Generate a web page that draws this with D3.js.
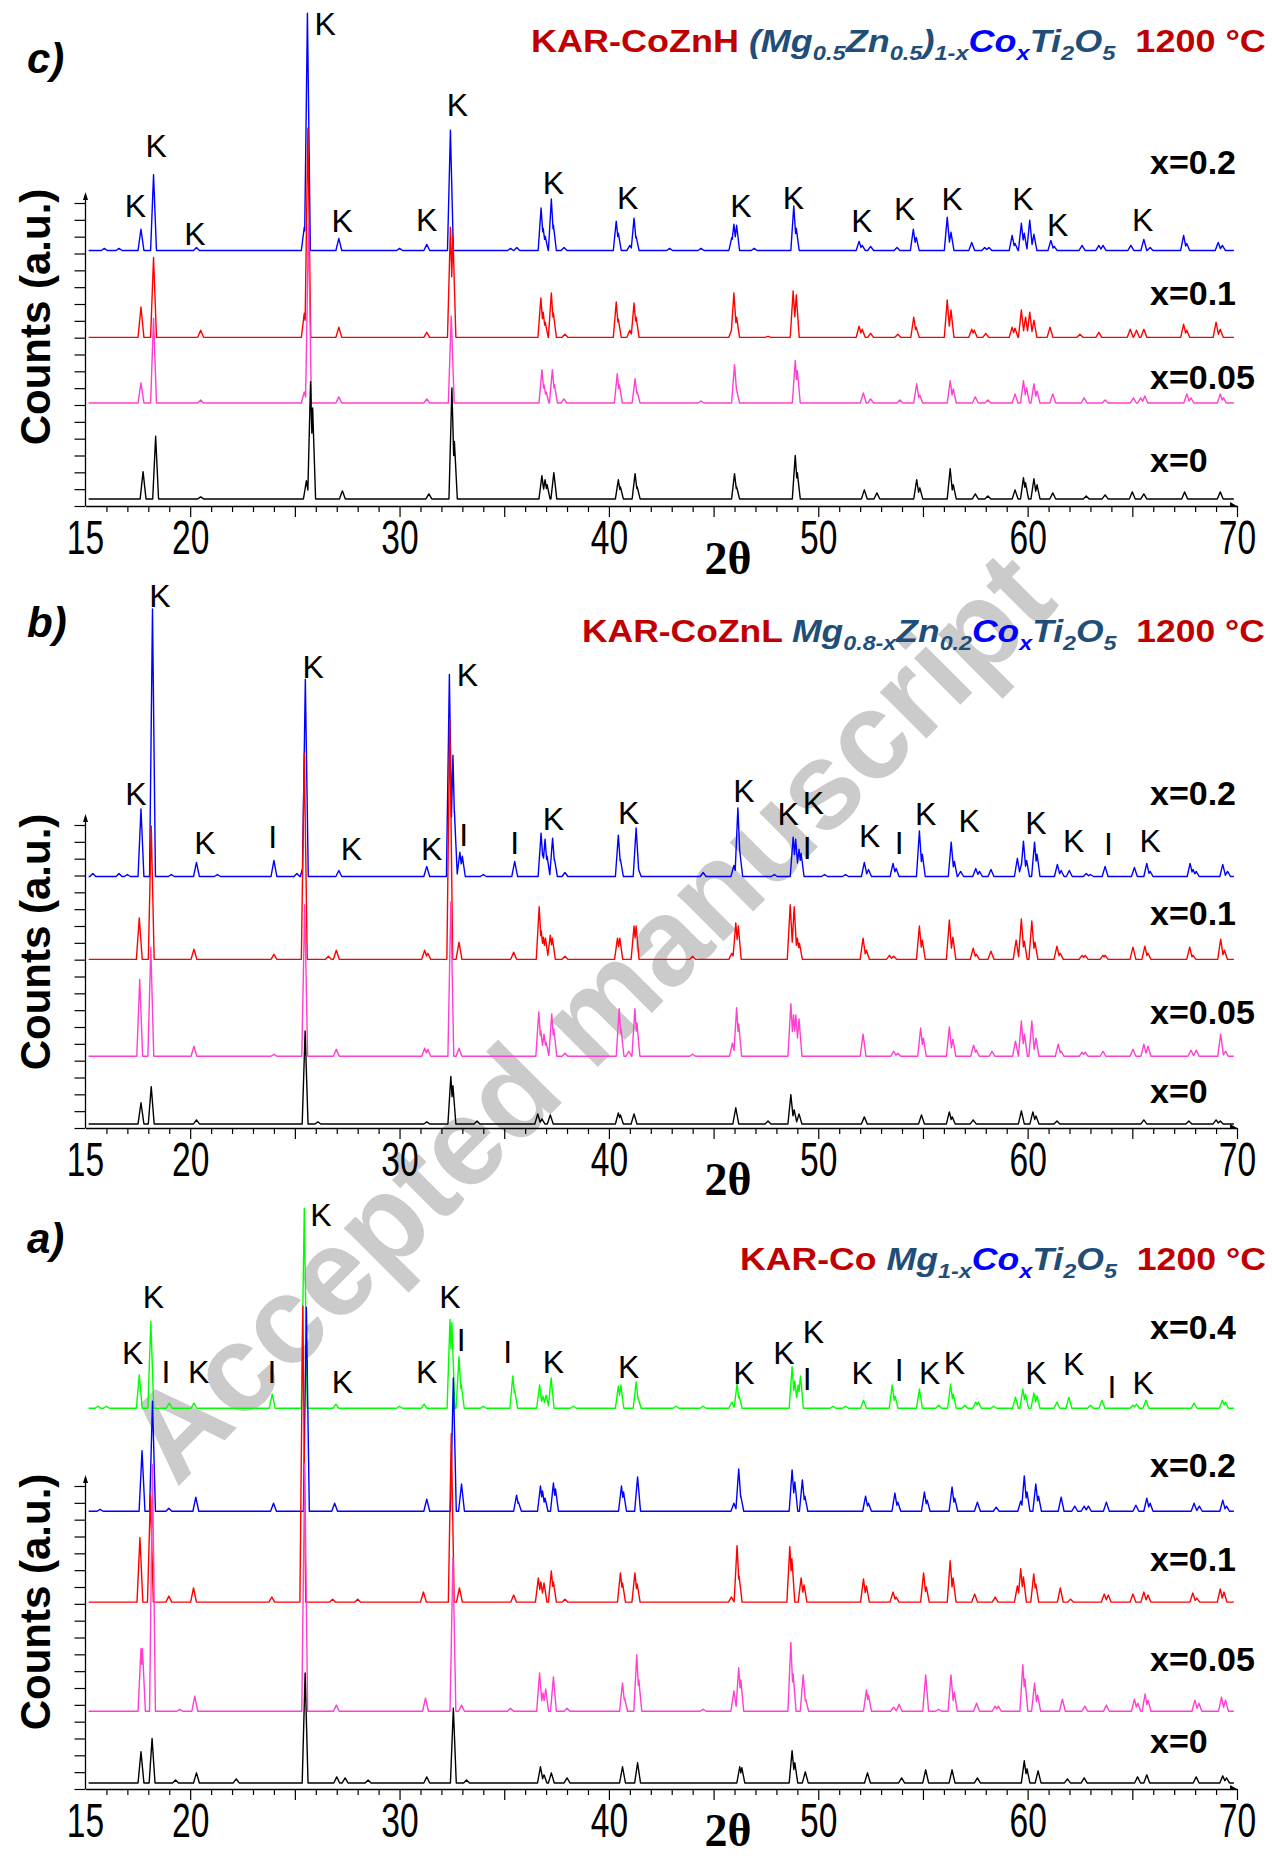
<!DOCTYPE html>
<html><head><meta charset="utf-8">
<script src="https://cdn.jsdelivr.net/npm/d3@7"></script>
<style>body{margin:0;background:#fff}</style>
</head><body>
<svg id="chart" width="1272" height="1856" xmlns="http://www.w3.org/2000/svg"></svg>
<script>
// ---------------- DATA (2θ, relative counts a.u.) ----------------
const xTickLabels = [15, 20, 30, 40, 50, 60, 70];

// Panel c) KAR-CoZnH
const c_labels = ['x=0.2', 'x=0.1', 'x=0.05', 'x=0'];
const c_offsets = [253, 167, 102, 7];
const c_labelY = [329, 199, 116, 34];
const c_x02 = [[15.9,2],[16.6,2],[17.65,21],[18.25,75],[20.3,3],[25.45,23],[25.6,235],[27.1,12],[30.0,2],[31.3,6],[32.43,119],[35.3,2],[35.6,3],[36.76,42],[36.86,22],[36.96,14],[37.25,51],[37.35,25],[37.86,3],[40.35,29],[40.45,17],[41.0,5],[41.2,32],[41.3,14],[42.9,2],[44.4,2],[45.87,13],[45.97,26],[46.1,25],[46.94,2],[48.83,44],[48.95,22],[51.95,9],[52.1,5],[52.5,4],[53.76,3],[54.54,21],[54.68,13],[56.16,33],[56.34,18],[57.33,8],[57.95,3],[58.15,3],[59.26,15],[59.4,7],[59.7,27],[59.84,17],[60.1,30],[60.3,16],[61.11,10],[61.27,4],[62.6,5],[63.4,5],[63.6,5],[64.93,5],[65.55,11],[65.85,3],[67.45,15],[67.6,7],[69.1,8],[69.3,5]];
const c_x01 = [[17.65,30],[18.25,79],[20.5,7],[25.45,24],[25.62,207],[27.1,10],[31.3,5],[32.43,109],[32.55,101],[36.75,39],[36.86,25],[36.96,15],[37.25,44],[37.35,24],[37.9,3],[40.35,35],[40.45,18],[41.0,7],[41.2,34],[41.3,20],[45.87,8],[45.97,44],[46.1,20],[47.6,1],[48.8,46],[48.95,42],[51.95,11],[52.1,8],[52.5,4],[53.8,3],[54.56,20],[54.68,10],[56.16,37],[56.34,27],[57.33,8],[57.45,7],[58.0,4],[59.26,10],[59.4,9],[59.7,27],[59.9,20],[60.1,25],[60.3,17],[61.07,10],[62.5,3],[63.4,5],[64.9,8],[65.2,7],[65.55,8],[67.45,13],[67.6,7],[69.0,15],[69.2,8]];
const c_x005 = [[17.65,20],[18.25,84],[20.5,3],[25.45,11],[25.65,177],[27.1,6],[31.3,4],[32.47,86],[36.8,33],[36.9,18],[37.0,11],[37.3,33],[37.4,18],[37.85,4],[40.4,29],[40.5,18],[41.25,24],[41.35,11],[44.4,2],[46.0,38],[46.1,13],[48.9,42],[49.0,32],[52.15,10],[52.5,4],[53.9,3],[54.7,19],[54.85,8],[56.3,22],[56.45,14],[57.5,6],[58.1,3],[59.4,9],[59.8,22],[59.95,15],[60.3,19],[60.45,12],[61.2,9],[62.7,5],[63.7,3],[65.05,5],[65.4,5],[65.6,7],[67.6,9],[67.8,5],[69.2,9],[69.35,5]];
const c_x0 = [[17.75,27],[18.35,62],[20.5,2],[25.55,18],[25.75,116],[25.85,90],[27.27,8],[31.4,5],[32.5,110],[32.62,57],[36.8,23],[36.95,19],[37.05,14],[37.37,26],[40.45,19],[40.55,12],[41.25,25],[41.35,12],[46.0,25],[46.1,12],[48.9,43],[49.0,26],[52.2,9],[52.8,6],[54.7,19],[54.85,11],[56.3,30],[56.45,14],[57.5,5],[58.1,3],[59.4,9],[59.8,21],[59.9,16],[60.3,20],[60.45,14],[61.2,6],[62.8,3],[63.7,4],[65.0,7],[65.55,5],[67.5,7],[69.2,7]];
const c_marks = [['K',17.39,286],['K',18.37,346],['K',20.23,258],['K',26.45,466],['K',27.26,271],['K',31.3,272],['K',32.77,386],['K',37.35,309],['K',40.9,294],['K',46.3,286],['K',48.81,294],['K',52.08,271],['K',54.13,283],['K',56.39,293],['K',59.77,293],['K',61.44,267],['K',65.5,272]];

// Panel b) KAR-CoZnL
const b_labels = ['x=0.2', 'x=0.1', 'x=0.05', 'x=0'];
const b_offsets = [249, 167, 71, 4];
const b_labelY = [320, 201, 103, 25];
const b_x02 = [[15.35,3],[16.6,3],[17.0,2],[17.65,67],[18.2,265],[19.1,2],[20.3,14],[21.3,2],[24.0,16],[25.1,3],[25.4,10],[25.5,195],[27.1,6],[31.3,10],[32.38,200],[32.55,120],[32.62,65],[32.88,24],[33.0,20],[34.0,2],[35.5,15],[36.76,43],[36.85,23],[36.95,37],[37.05,20],[37.31,38],[37.4,17],[37.9,4],[40.45,41],[40.55,17],[41.3,48],[41.4,8],[44.5,4],[45.97,11],[46.16,68],[46.25,25],[47.9,2],[48.8,39],[48.92,37],[49.08,27],[49.18,23],[50.3,2],[51.3,2],[52.2,14],[52.4,7],[53.57,13],[53.72,8],[54.83,45],[54.97,22],[56.35,34],[56.5,15],[56.8,5],[57.52,8],[57.7,5],[58.25,7],[59.51,18],[59.7,12],[59.8,35],[59.95,16],[60.33,34],[60.45,22],[61.42,12],[61.6,6],[61.99,6],[62.8,3],[63.0,2],[63.7,10],[65.1,9],[65.69,13],[65.85,5],[67.76,13],[67.9,7],[68.05,5],[69.32,12],[69.55,5]];
const b_x01 = [[17.57,41],[18.14,132],[20.18,10],[24.0,5],[25.45,204],[26.6,3],[26.98,9],[31.2,9],[31.35,6],[32.4,238],[32.84,17],[35.45,7],[36.67,52],[36.77,28],[36.87,22],[36.97,21],[37.2,24],[37.3,21],[37.9,3],[40.41,21],[40.52,21],[41.2,33],[41.3,33],[44.0,3],[45.87,6],[46.06,36],[46.18,33],[48.66,54],[48.85,52],[49.0,21],[49.1,16],[52.14,21],[52.3,9],[53.4,4],[53.6,3],[54.83,33],[54.97,19],[56.26,39],[56.43,22],[57.4,11],[57.55,5],[58.25,8],[59.45,19],[59.7,40],[59.84,18],[60.2,38],[60.35,17],[61.4,13],[61.56,6],[62.6,4],[62.75,4],[63.6,4],[63.7,4],[65.03,12],[65.6,13],[65.75,6],[67.74,12],[67.9,4],[69.22,20],[69.4,9]];
const b_x005 = [[17.59,76],[18.12,108],[20.18,10],[24.0,2],[25.47,150],[26.98,7],[31.2,8],[31.35,7],[32.45,153],[32.84,8],[36.65,44],[36.75,25],[36.9,22],[37.0,14],[37.27,42],[37.37,27],[37.9,3],[40.49,47],[40.58,27],[40.95,5],[41.24,47],[41.34,33],[44.0,2],[45.9,13],[46.1,48],[46.2,32],[48.69,52],[48.82,41],[48.93,41],[49.08,37],[52.14,22],[53.6,5],[53.8,3],[54.89,28],[55.02,18],[56.26,29],[56.43,17],[57.42,11],[57.55,6],[58.3,5],[59.42,15],[59.7,35],[59.85,22],[60.2,35],[60.4,18],[61.46,12],[61.6,5],[62.6,4],[62.75,4],[63.6,5],[65.03,7],[65.55,12],[65.75,10],[67.8,6],[68.05,6],[69.22,22],[69.45,5]];
const b_x0 = [[17.65,21],[18.14,37],[20.3,4],[25.49,92],[26.1,2],[31.3,2],[32.45,47],[32.55,38],[33.7,3],[36.6,10],[36.8,5],[37.2,9],[40.45,11],[40.55,9],[41.2,10],[46.06,16],[47.6,3],[48.69,29],[48.85,14],[49.08,10],[52.2,7],[54.93,9],[56.26,12],[56.4,7],[57.4,4],[59.7,13],[60.25,12],[60.4,8],[61.4,3],[65.55,4],[67.7,3],[69.0,4],[69.2,3]];
const b_marks = [['K',17.41,320],['K',18.55,516],['K',20.7,271],['I',23.94,277],['K',25.87,446],['K',27.7,265],['K',31.53,265],['K',33.24,438],['I',33.06,279],['I',35.5,271],['K',37.35,295],['K',40.94,301],['K',46.45,323],['K',48.56,300],['K',49.77,311],['I',49.47,266],['K',52.46,278],['I',53.86,271],['K',55.13,300],['K',57.21,293],['K',60.39,291],['K',62.2,273],['I',63.86,270],['K',65.85,273]];

// Panel a) KAR-Co
const a_labels = ['x=0.4', 'x=0.2', 'x=0.1', 'x=0.05', 'x=0'];
const a_offsets = [377, 275, 185, 77, 6];
const a_labelY = [446, 309, 216, 117, 36];
const a_x04 = [[15.6,2],[16.0,2],[17.57,33],[18.12,86],[19.0,5],[20.18,5],[23.92,14],[25.45,198],[26.96,4],[30.0,2],[31.17,4],[32.41,88],[32.5,85],[32.84,51],[32.95,23],[34.0,2],[35.41,32],[35.5,18],[36.69,23],[36.85,12],[37.0,13],[37.24,30],[38.3,2],[40.45,22],[40.57,23],[41.3,26],[41.4,10],[43.2,2],[44.5,2],[45.87,6],[46.12,24],[46.22,12],[48.75,41],[48.88,27],[49.04,23],[49.15,32],[50.7,2],[51.3,2],[52.16,8],[53.53,23],[53.67,12],[54.83,19],[55.75,3],[56.32,24],[56.45,14],[57.0,3],[57.52,6],[57.65,6],[58.38,2],[59.42,11],[59.77,19],[59.9,14],[60.3,15],[60.45,12],[61.4,6],[61.97,11],[63.0,3],[63.55,8],[65.03,3],[65.2,4],[65.65,8],[67.95,5],[69.3,8],[69.45,6]];
const a_x02 = [[15.7,2],[17.7,60],[18.2,109],[18.98,3],[20.27,14],[23.98,8],[25.55,202],[26.9,8],[31.3,12],[32.57,132],[32.96,27],[35.59,16],[35.68,9],[36.73,25],[36.83,20],[36.95,13],[37.35,28],[37.45,22],[40.6,25],[40.7,19],[41.37,34],[45.97,8],[46.2,42],[46.3,15],[48.75,41],[48.88,29],[49.24,31],[49.36,15],[52.26,15],[52.4,8],[53.66,18],[53.8,9],[55.07,19],[55.2,11],[56.39,24],[56.52,13],[57.6,9],[58.5,4],[59.67,10],[59.84,35],[59.97,19],[60.39,27],[60.52,15],[61.6,14],[62.25,5],[62.7,5],[62.9,5],[63.76,9],[65.17,6],[65.69,13],[65.85,8],[67.95,8],[68.2,5],[69.32,11],[69.5,5]];
const a_x01 = [[17.6,64],[18.1,106],[18.98,6],[20.16,14],[23.9,5],[25.38,293],[26.8,3],[28.0,3],[31.14,10],[32.47,167],[32.86,14],[35.45,7],[36.63,24],[36.75,20],[36.9,19],[37.25,31],[37.35,20],[37.9,3],[40.55,29],[40.65,19],[41.24,29],[41.35,18],[45.85,5],[46.12,56],[46.22,26],[48.64,55],[48.74,43],[49.18,24],[49.32,17],[52.16,23],[52.3,16],[53.57,10],[53.72,5],[55.03,29],[55.16,15],[56.3,41],[56.44,24],[57.47,8],[58.45,5],[59.51,16],[59.67,33],[59.8,25],[60.29,28],[60.39,18],[61.56,14],[62.05,3],[63.66,8],[63.85,7],[65.03,8],[65.55,10],[65.75,7],[67.89,9],[68.08,4],[69.2,13],[69.38,10]];
const a_x005 = [[17.65,62],[17.72,62],[18.2,244],[19.5,2],[20.22,15],[25.47,245],[26.98,6],[31.24,13],[32.55,152],[32.96,6],[35.3,3],[36.69,38],[36.85,18],[36.98,22],[37.35,34],[38.0,3],[40.65,28],[40.75,13],[41.33,56],[41.43,31],[44.5,2],[45.97,20],[46.2,43],[46.3,31],[48.69,68],[48.8,37],[49.28,36],[49.4,12],[52.3,21],[52.4,16],[53.6,4],[53.86,7],[55.13,36],[55.75,2],[56.34,36],[56.5,19],[57.56,8],[58.45,5],[58.6,5],[59.77,46],[59.87,32],[60.33,28],[60.48,16],[61.66,12],[62.73,5],[63.76,6],[65.1,12],[65.26,8],[65.61,17],[65.75,11],[67.99,11],[68.18,8],[69.26,14],[69.45,11]];
const a_x0 = [[17.65,31],[18.18,44],[19.3,3],[20.3,10],[22.2,4],[25.49,109],[27.0,6],[27.4,5],[28.5,3],[31.3,6],[32.57,74],[33.2,3],[36.73,16],[36.9,8],[37.25,10],[38.0,5],[40.65,16],[41.37,20],[46.25,16],[46.35,15],[48.75,32],[48.88,20],[49.38,11],[52.35,10],[53.98,5],[55.13,13],[56.39,13],[57.6,5],[59.84,22],[59.97,14],[60.5,12],[61.9,4],[62.7,5],[65.25,6],[65.69,8],[68.05,6],[69.32,7],[69.5,5]];
const a_marks = [['K',17.25,421],['K',18.25,476],['I',18.84,402],['K',20.4,402],['I',23.9,402],['K',26.24,557],['K',27.27,392],['K',31.3,402],['K',32.41,476],['I',32.94,434],['I',35.16,422],['K',37.35,412],['K',40.94,407],['K',46.45,401],['K',48.36,421],['K',49.77,442],['I',49.47,395],['K',52.1,401],['I',53.86,404],['K',55.32,401],['K',56.5,411],['K',60.39,401],['K',62.2,410],['I',64.03,387],['K',65.52,391]];

// Titles: [text, colour key, subscript?]
const c_title = [['KAR-CoZnH ','r',0],['(Mg','n',0],['0.5','n',1],['Zn','n',0],['0.5','n',1],[')','n',0],['1-x','n',1],['Co','b',0],['x','b',1],['Ti','n',0],['2','n',1],['O','n',0],['5','n',1],['  1200 °C','r',0]];
const b_title = [['KAR-CoZnL ','r',0],['Mg','n',0],['0.8-x','n',1],['Zn','n',0],['0.2','n',1],['Co','b',0],['x','b',1],['Ti','n',0],['2','n',1],['O','n',0],['5','n',1],['  1200 °C','r',0]];
const a_title = [['KAR-Co ','r',0],['Mg','n',0],['1-x','n',1],['Co','b',0],['x','b',1],['Ti','n',0],['2','n',1],['O','n',0],['5','n',1],['  1200 °C','r',0]];

// ---------------- STYLE / LAYOUT ----------------
const SERIES_COLORS = {'x=0.4':'#00ff00','x=0.2':'#0000ff','x=0.1':'#ff0000','x=0.05':'#ff3fcf','x=0':'#000000'};
const TITLE_COLORS = {r:'#c00000', n:'#1f4e79', b:'#0000ff'};
const FONT = '"Liberation Sans", Arial, Helvetica, sans-serif';

const panels = [
  {letter:'c)', axisY:506, letterY:73, titleY:52, titleX:531, titleW:735, countsY:317, thetaY:574, labels:c_labels, offsets:c_offsets, labelY:c_labelY, data:[c_x02,c_x01,c_x005,c_x0], marks:c_marks, title:c_title},
  {letter:'b)', axisY:1128, letterY:637, titleY:642, titleX:582, titleW:683, countsY:942, thetaY:1195, labels:b_labels, offsets:b_offsets, labelY:b_labelY, data:[b_x02,b_x01,b_x005,b_x0], marks:b_marks, title:b_title},
  {letter:'a)', axisY:1789, letterY:1253, titleY:1270, titleX:740, titleW:526, countsY:1602, thetaY:1846, labels:a_labels, offsets:a_offsets, labelY:a_labelY, data:[a_x04,a_x02,a_x01,a_x005,a_x0], marks:a_marks, title:a_title}
];

const svg = d3.select('#chart');
svg.append('rect').attr('width',1272).attr('height',1856).attr('fill','#fff');

const x = d3.scaleLinear().domain([15,70]).range([85.5,1237]);
const X0 = 15.15, X1 = 69.85, PW = 0.14;

// watermark (under everything)
svg.append('text')
  .attr('transform','translate(588,1016) rotate(-45)')
  .attr('text-anchor','middle').attr('dominant-baseline','central')
  .attr('font-family',FONT).attr('font-weight','bold').attr('font-size',124)
  .attr('fill','#cbcbcb')
  .attr('textLength',1250).attr('lengthAdjust','spacingAndGlyphs')
  .text('Accepted manuscript');

function envelope(peaks){
  const segs=[];
  peaks.forEach(([p,h])=>{
    segs.push({xa:p-PW,xb:p,s:h/PW,x1:p,y1:h});
    segs.push({xa:p,xb:p+PW,s:-h/PW,x1:p,y1:h});
  });
  const xs=[X0,X1];
  peaks.forEach(([p])=>xs.push(p-PW,p,p+PW));
  for(let i=0;i<segs.length;i++)for(let j=i+1;j<segs.length;j++){
    const a=segs[i],b=segs[j];
    if(a.s===b.s)continue;
    const lo=Math.max(a.xa,b.xa),hi=Math.min(a.xb,b.xb);
    if(lo>=hi)continue;
    const xi=(b.y1-a.y1+a.s*a.x1-b.s*b.x1)/(a.s-b.s);
    if(xi>lo&&xi<hi)xs.push(xi);
  }
  const f=t=>d3.max(peaks,([p,h])=>Math.max(0,h*(1-Math.abs(t-p)/PW)))||0;
  return Array.from(new Set(xs)).filter(t=>t>=X0&&t<=X1).sort((a,b)=>a-b).map(t=>[t,f(t)]);
}

panels.forEach(P=>{
  const g = svg.append('g');
  const y = d3.scaleLinear().domain([0,300]).range([P.axisY, P.axisY-303]);

  // y axis ticks
  const yAxis = d3.axisLeft(y).tickValues(d3.range(0,19).map(i=>i*300/18)).tickSize(11).tickSizeOuter(0).tickFormat('');
  const ya = g.append('g').attr('transform',`translate(${x(15)},0)`).call(yAxis);
  ya.select('.domain').remove();
  ya.selectAll('line').attr('stroke','#000').attr('stroke-width',1.2);
  g.append('line').attr('x1',x(15)).attr('x2',x(15)).attr('y1',P.axisY).attr('y2',y(300)-8).attr('stroke','#000').attr('stroke-width',1.3);
  g.append('path').attr('d',`M${x(15)-2.5},${y(300)-3}L${x(15)},${y(300)-11}L${x(15)+2.5},${y(300)-3}Z`).attr('fill','#000');

  // x axis
  const lab = new Set(xTickLabels);
  const xAxis = d3.axisBottom(x).tickValues(d3.range(16,71)).tickSize(6).tickSizeOuter(0)
      .tickFormat(d=>lab.has(d)?d:'');
  const xa = g.append('g').attr('transform',`translate(0,${P.axisY})`).call(xAxis);
  xa.select('.domain').attr('stroke','#000').attr('stroke-width',1.3);
  xa.selectAll('.tick line').attr('stroke','#000').attr('stroke-width',1.2)
    .attr('y2',d=>d%5===0?11:6);
  xa.selectAll('.tick text').attr('y',48).attr('dy',null)
    .attr('font-family',FONT).attr('font-size',48).attr('fill','#000')
    .attr('transform','scale(0.7,1)');
  g.append('text').attr('transform',`translate(${x(15)},${P.axisY+48}) scale(0.7,1)`)
    .attr('text-anchor','middle').attr('font-family',FONT).attr('font-size',48).text('15');
  g.append('path').attr('d',`M${x(70)-7},${P.axisY-4}L${x(70)},${P.axisY}L${x(70)-7},${P.axisY}Z`).attr('fill','#000');

  // traces: drawn from top series to bottom one
  P.data.forEach((peaks,i)=>{
    const off = P.offsets[i];
    const line = d3.line().x(d=>x(d[0])).y(d=>y(off+d[1]));
    g.append('path').datum(envelope(peaks)).attr('d',line)
      .attr('fill','none').attr('stroke',SERIES_COLORS[P.labels[i]])
      .attr('stroke-width',1.4).attr('stroke-linejoin','round');
  });

  // series labels
  P.labels.forEach((t,i)=>{
    g.append('text').attr('x',1150).attr('y',y(P.labelY[i]))
      .attr('font-family',FONT).attr('font-weight','bold').attr('font-size',34).text(t);
  });

  // peak marks
  P.marks.forEach(([t,pos,yy])=>{
    g.append('text').attr('x',x(pos)).attr('y',y(yy)).attr('text-anchor','middle')
      .attr('font-family',FONT).attr('font-size',32).text(t);
  });

  // axis titles
  g.append('text').attr('transform',`translate(50,${P.countsY}) rotate(-90)`)
    .attr('text-anchor','middle').attr('font-family',FONT).attr('font-weight','bold')
    .attr('font-size',42).text('Counts (a.u.)');
  g.append('text').attr('x',728).attr('y',P.thetaY).attr('text-anchor','middle')
    .attr('font-family','"Liberation Serif", "Times New Roman", serif').attr('font-weight','bold')
    .attr('font-size',46).text('2θ');

  // panel letter
  g.append('text').attr('x',27).attr('y',P.letterY).attr('font-family',FONT)
    .attr('font-weight','bold').attr('font-style','italic').attr('font-size',42).text(P.letter);

  // title
  const tt = g.append('text').attr('font-family',FONT).attr('font-weight','bold')
    .attr('font-size',32).style('white-space','pre');
  let sub = false;
  P.title.forEach(([t,c,s])=>{
    const ts = tt.append('tspan').text(t).attr('fill',TITLE_COLORS[c])
      .attr('font-style',c==='r'?'normal':'italic');
    if(s){ ts.attr('font-size',21); if(!sub) ts.attr('dy',8); sub=true; }
    else { if(sub) ts.attr('dy',-8); sub=false; }
  });
  const w = tt.node().getComputedTextLength();
  tt.attr('transform',`translate(${P.titleX},${P.titleY}) scale(${P.titleW/w},1)`);
});
</script>
</body></html>
